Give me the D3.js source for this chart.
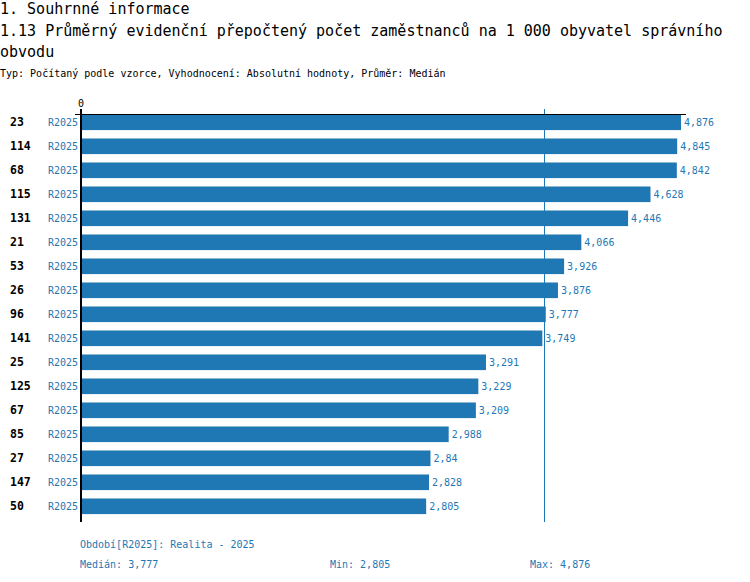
<!DOCTYPE html>
<html>
<head>
<meta charset="utf-8">
<script src="https://cdn.jsdelivr.net/npm/d3@7"></script>
<style>
  body { margin: 0; background: #fff; }
  svg text { font-family: "DejaVu Sans Mono", monospace; }
</style>
</head>
<body>
<svg id="chart" width="750" height="582"></svg>
<script>
  // data (per 1 000 inhabitants, decimal comma)
  var ids = ['23', '114', '68', '115', '131', '21', '53', '26', '96', '141', '25', '125', '67', '85', '27', '147', '50'];
  var values = [4.876, 4.845, 4.842, 4.628, 4.446, 4.066, 3.926, 3.876, 3.777, 3.749, 3.291, 3.229, 3.209, 2.988, 2.84, 2.828, 2.805];
  var period = 'R2025';
  var median = 3.777;

  var blue = '#1f77b4';
  var cz = d3.formatLocale({decimal: ',', thousands: ' ', grouping: [3], currency: ['', ' Kč']});
  var fmt = cz.format('.3~f');

  var svg = d3.select('#chart');

  // titles
  var titles = [
    {t: '1. Souhrnné informace', y: 14},
    {t: '1.13 Průměrný evidenční přepočtený počet zaměstnanců na 1 000 obyvatel správního', y: 36},
    {t: 'obvodu', y: 57}
  ];
  svg.selectAll('.title').data(titles).enter().append('text')
    .attr('class', 'title')
    .attr('x', 0).attr('y', function(d) { return d.y; })
    .style('font-size', '15px')
    .attr('fill', '#000')
    .text(function(d) { return d.t; });

  svg.append('text')
    .attr('x', 0).attr('y', 77)
    .style('font-size', '10px')
    .attr('fill', '#000')
    .text('Typ: Počítaný podle vzorce, Vyhodnocení: Absolutní hodnoty, Průměr: Medián');

  // scales
  var x = d3.scaleLinear().domain([0, d3.max(values)]).range([81, 681]);
  var y = d3.scaleBand().domain(d3.range(ids.length)).range([114.5, 522.5])
    .paddingInner(0.35).paddingOuter(0.175).align(0);

  var plotTop = 114, plotBottom = 522;

  // bars
  svg.selectAll('.bar').data(values).enter().append('rect')
    .attr('class', 'bar')
    .attr('x', x(0) + 1)
    .attr('y', function(d, i) { return y(i); })
    .attr('width', function(d) { return x(d) - x(0) - 1; })
    .attr('height', y.bandwidth())
    .attr('fill', blue);

  // values
  svg.selectAll('.value').data(values).enter().append('text')
    .attr('class', 'value')
    .attr('x', function(d) { return x(d) + 3; })
    .attr('y', function(d, i) { return y(i) + y.bandwidth() / 2 + 4; })
    .style('font-size', '10px')
    .attr('fill', blue)
    .text(function(d) { return fmt(d); });

  // row ids
  svg.selectAll('.rid').data(ids).enter().append('text')
    .attr('class', 'rid')
    .attr('x', 10)
    .attr('y', function(d, i) { return y(i) + y.bandwidth() / 2 + 4; })
    .style('font-size', '11.5px')
    .style('font-weight', 'bold')
    .attr('fill', '#000')
    .text(function(d) { return d; });

  // period labels
  svg.selectAll('.per').data(ids).enter().append('text')
    .attr('class', 'per')
    .attr('x', 78)
    .attr('text-anchor', 'end')
    .attr('y', function(d, i) { return y(i) + y.bandwidth() / 2 + 4; })
    .style('font-size', '10px')
    .attr('fill', blue)
    .text(period);

  // median line
  var mx = Math.round(x(median)) - 1.5;
  svg.append('line')
    .attr('x1', mx).attr('x2', mx)
    .attr('y1', plotTop - 5).attr('y2', plotBottom)
    .attr('stroke', blue).attr('stroke-width', 1);

  // axes
  svg.append('line')
    .attr('x1', x(0) - 6).attr('x2', x.range()[1] + 5)
    .attr('y1', plotTop + 0.5).attr('y2', plotTop + 0.5)
    .attr('stroke', '#000').attr('stroke-width', 1);
  svg.append('line')
    .attr('x1', x(0)).attr('x2', x(0))
    .attr('y1', plotTop - 5).attr('y2', plotBottom)
    .attr('stroke', '#000').attr('stroke-width', 2);
  svg.append('text')
    .attr('x', x(0)).attr('y', plotTop - 7)
    .attr('text-anchor', 'middle')
    .style('font-size', '10px')
    .attr('fill', '#000')
    .text('0');

  // footer
  var foot = [
    {t: 'Období[' + period + ']: Realita - 2025', x: 80, y: 548},
    {t: 'Medián: ' + fmt(median), x: 80, y: 568},
    {t: 'Min: ' + fmt(d3.min(values)), x: 330, y: 568},
    {t: 'Max: ' + fmt(d3.max(values)), x: 530, y: 568}
  ];
  svg.selectAll('.foot').data(foot).enter().append('text')
    .attr('class', 'foot')
    .attr('x', function(d) { return d.x; })
    .attr('y', function(d) { return d.y; })
    .style('font-size', '10px')
    .attr('fill', blue)
    .text(function(d) { return d.t; });
</script>
</body>
</html>
